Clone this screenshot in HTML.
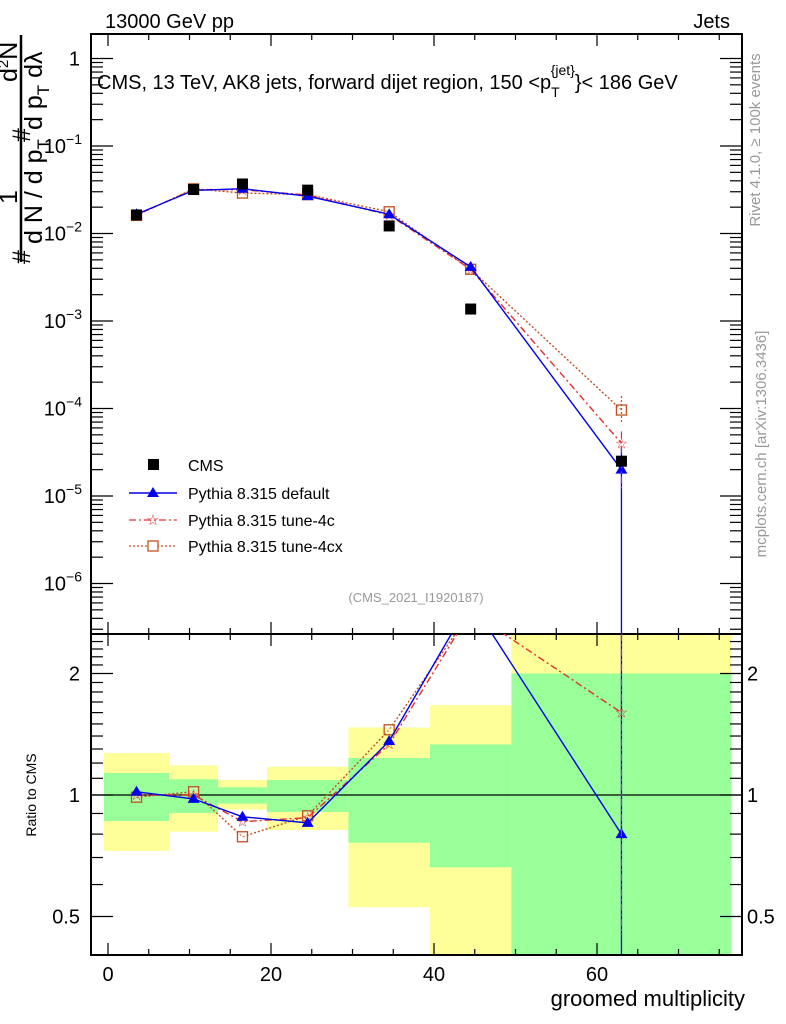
<!DOCTYPE html>
<html><head><meta charset="utf-8">
<style>
html,body{margin:0;padding:0;background:#fff;width:786px;height:1024px;overflow:hidden;}
svg{display:block;font-family:"Liberation Sans",sans-serif;}
</style></head>
<body>
<svg id="chart" width="786" height="1024" viewBox="0 0 786 1024" xmlns="http://www.w3.org/2000/svg">
<g id="bands"></g>
<g id="grid"></g>
<g id="series"></g>
<text x="105" y="28" font-size="20">13000 GeV pp</text>
<text x="730" y="28" font-size="20" text-anchor="end">Jets</text>
<text x="97" y="89" font-size="20">CMS, 13 TeV, AK8 jets, forward dijet region, 150 &lt;p<tspan dy="8" font-size="14">T</tspan><tspan dy="-22" dx="-9" font-size="14">{jet}</tspan><tspan dy="14">}&lt; 186 GeV</tspan></text>
<text x="416" y="602" font-size="13" fill="#999" text-anchor="middle">(CMS_2021_I1920187)</text>
<text transform="translate(760,140) rotate(-90)" font-size="15" fill="#999" text-anchor="middle">Rivet 4.1.0, ≥ 100k events</text>
<text transform="translate(766,444) rotate(-90)" font-size="15" fill="#999" text-anchor="middle">mcplots.cern.ch [arXiv:1306.3436]</text>
<text transform="translate(36,795) rotate(-90)" font-size="14" text-anchor="middle">Ratio to CMS</text>
<text x="745" y="1006" font-size="22" text-anchor="end">groomed multiplicity</text>
<g font-size="25">
<line x1="21" y1="35" x2="21" y2="262" stroke="#000" stroke-width="2.5"/>
<text transform="translate(17,197) rotate(-90)" text-anchor="middle">1</text>
<text transform="translate(17,82) rotate(-90)" text-anchor="start">d<tspan font-size="15" dy="-9">2</tspan><tspan dy="9">N</tspan></text>
<text transform="translate(30,257) rotate(-90)" text-anchor="middle">#</text>
<text transform="translate(30,135) rotate(-90)" text-anchor="middle">#</text>
<text transform="translate(42,244) rotate(-90)" text-anchor="start">d N / d p<tspan font-size="17" dy="7">T</tspan></text>
<text transform="translate(42,130) rotate(-90)" text-anchor="start">d p<tspan font-size="17" dy="7">T</tspan><tspan dy="-7"> dλ</tspan></text>
</g>
<g font-size="16">
<rect x="148" y="459" width="11" height="11" fill="#000"/>
<text x="188" y="471">CMS</text>
<line x1="129" y1="493" x2="177" y2="493" stroke="#0000ee" stroke-width="1.5"/>
<polygon points="153,487 159,497 147,497" fill="#0000ee"/>
<text x="188" y="499">Pythia 8.315 default</text>
<line x1="129" y1="520" x2="177" y2="520" stroke="#e03030" stroke-width="1.3" stroke-dasharray="7,3,2,3"/>
<text x="153" y="525" font-size="15" fill="#e03030" text-anchor="middle">☆</text>
<text x="188" y="526">Pythia 8.315 tune-4c</text>
<line x1="129" y1="546" x2="177" y2="546" stroke="#c05020" stroke-width="1.3" stroke-dasharray="2,2"/>
<rect x="148" y="541" width="10" height="10" fill="#fff" stroke="#c05020" stroke-width="1.3"/>
<text x="188" y="552">Pythia 8.315 tune-4cx</text>
</g>
</svg>
<script>
const xCenters=[3.5,10.5,16.5,24.5,34.5,44.5,63];
const cmsVals=[0.0163,0.0318,0.0368,0.0313,0.0122,0.00137,2.5e-5];
const defVals=[0.0166,0.0311,0.0325,0.0267,0.0166,0.00415,2.0e-5];
const t4cVals=[0.0163,0.0318,0.0316,0.0275,0.0163,0.0039,4.0e-5];
const t4cxVals=[0.0161,0.0324,0.029,0.0278,0.0177,0.0039,9.6e-5];
const binEdges=[-0.5,7.5,13.5,19.5,29.5,39.5,49.5,76.5];
const greenHi=[1.134,1.094,1.045,1.089,1.235,1.335,2.0];
const greenLo=[0.862,0.902,0.952,0.908,0.762,0.662,0.2];
const yellowHi=[1.271,1.184,1.089,1.175,1.47,1.67,4.0];
const yellowLo=[0.727,0.811,0.92,0.819,0.527,0.2,0.2];
const xTicks=[0,20,40,60];
const mainTickExp=[0,-1,-2,-3,-4,-5,-6];
const ratioTicks=[0.5,1,2];

const NS="http://www.w3.org/2000/svg";
const L=91,R=742,T=34,MB=634,RB=955;
const X=v=>108+8.15*v;
const Y=v=>58.5-87.5*Math.log10(v);
const YR=v=>795-121.5*Math.log2(v);
function mk(tag,attrs,parent){const e=document.createElementNS(NS,tag);for(const k in attrs)e.setAttribute(k,attrs[k]);parent.appendChild(e);return e;}
const bands=document.getElementById('bands'),grid=document.getElementById('grid'),ser=document.getElementById('series');

const defs=mk('defs',{},document.getElementById('chart'));
const c1=mk('clipPath',{id:'cm'},defs);mk('rect',{x:L,y:T,width:R-L,height:MB-T},c1);
const c2=mk('clipPath',{id:'cr'},defs);mk('rect',{x:L,y:MB,width:R-L,height:RB-MB},c2);
bands.setAttribute('clip-path','url(#cr)');

for(let i=0;i<greenHi.length;i++){
  const x0=X(binEdges[i]),x1=X(binEdges[i+1]);
  const y1=mk('rect',{x:x0,y:YR(yellowHi[i]),width:x1-x0,height:YR(yellowLo[i])-YR(yellowHi[i]),fill:'#ffff99'},bands);
  
  
  const g1=mk('rect',{x:x0,y:YR(greenHi[i]),width:x1-x0,height:YR(greenLo[i])-YR(greenHi[i]),fill:'#99ff99'},bands);
  
  
}
mk('rect',{x:L,y:T,width:R-L,height:MB-T,fill:'none',stroke:'#000','stroke-width':2},grid);
mk('rect',{x:L,y:MB,width:R-L,height:RB-MB,fill:'none',stroke:'#000','stroke-width':2},grid);
mk('line',{x1:L,y1:YR(1),x2:R,y2:YR(1),stroke:'#000','stroke-width':1.3},grid);
for(let v=0;v<=75;v+=5){
  const maj=v%20===0, x=X(v);
  for(const [yb,dir] of [[T,1],[MB,-1],[MB,1],[RB,-1]]){
    mk('line',{x1:x,y1:yb,x2:x,y2:yb+dir*(maj?12:6),stroke:'#000','stroke-width':1.2},grid);
  }
}
xTicks.forEach(v=>{const t=mk('text',{x:X(v),y:981,'font-size':20,'text-anchor':'middle'},grid);t.textContent=v;
 
 });
for(let e=1;e>=-7;e--){
  for(let m=1;m<10;m++){
    const y=Y(m*Math.pow(10,e-1));
    if(y<T||y>MB)continue;
    const len=m===1?22:12;
    mk('line',{x1:L,y1:y,x2:L+len,y2:y,stroke:'#000','stroke-width':1.2},grid);
    mk('line',{x1:R,y1:y,x2:R-len,y2:y,stroke:'#000','stroke-width':1.2},grid);
  }
}
mainTickExp.forEach(e=>{
  const t=mk('text',{x:e===0?80:82,y:Y(Math.pow(10,e))+7,'font-size':20,'text-anchor':'end'},grid);
  if(e===0)t.textContent='1';else{t.textContent='10';const s=mk('tspan',{dy:-9,'font-size':14},t);s.textContent='−'+(-e);}
  
  
});
for(let v=0.4;v<=2.51;v+=0.1){
  const y=YR(v);if(y<MB||y>RB)continue;
  const maj=[0.5,1,2].some(a=>Math.abs(a-v)<1e-6);
  const len=maj?22:12;
  mk('line',{x1:L,y1:y,x2:L+len,y2:y,stroke:'#000','stroke-width':1.2},grid);
  mk('line',{x1:R,y1:y,x2:R-len,y2:y,stroke:'#000','stroke-width':1.2},grid);
}
ratioTicks.forEach(v=>{
  const t=mk('text',{x:80,y:YR(v)+7,'font-size':20,'text-anchor':'end'},grid);t.textContent=v;
  
  
  const t2=mk('text',{x:747,y:YR(v)+7,'font-size':20},grid);t2.textContent=v;
  
  
});

const gm=mk('g',{'clip-path':'url(#cm)'},ser);
const gr=mk('g',{'clip-path':'url(#cr)'},ser);
function marker(g,kind,x,y,col){
  if(kind==='tri') return mk('polygon',{points:`${x},${y-6} ${x+6},${y+4} ${x-6},${y+4}`,fill:col},g);
  if(kind==='sq') return mk('rect',{x:x-5,y:y-5,width:10,height:10,fill:'#fff','fill-opacity':0.3,stroke:col,'stroke-width':1.3},g);
  if(kind==='star'){const t=mk('text',{x:x,y:y+5,'font-size':15,'text-anchor':'middle',fill:col},g);t.textContent='☆';return t;}
}
const series=[
  {vals:t4cxVals,col:'#c05020',dash:'2,2',kind:'sq',name:'tune-4cx'},
  {vals:t4cVals,col:'#e03030',dash:'7,3,2,3',kind:'star',name:'tune-4c'},
  {vals:defVals,col:'#0000ee',dash:'',kind:'tri',name:'default'}
];
series.forEach(s=>{
  const pm=xCenters.map((x,i)=>X(x)+','+Y(s.vals[i])).join(' ');
  const l=mk('polyline',{points:pm,fill:'none',stroke:s.col,'stroke-width':1.4,'stroke-dasharray':s.dash},gm);
  
  
  const pr=xCenters.map((x,i)=>X(x)+','+YR(s.vals[i]/cmsVals[i])).join(' ');
  const l2=mk('polyline',{points:pr,fill:'none',stroke:s.col,'stroke-width':1.4,'stroke-dasharray':s.dash},gr);
  
  
  xCenters.forEach((x,i)=>{
    const m=marker(gm,s.kind,X(x),Y(s.vals[i]),s.col);
    
    
    const m2=marker(gr,s.kind,X(x),YR(s.vals[i]/cmsVals[i]),s.col);
    
    
  });
});
const xl=X(xCenters[6]);
mk('line',{x1:xl,y1:Y(defVals[6])-22,x2:xl,y2:MB,stroke:'#0000ee','stroke-width':1.3},gm);
mk('line',{x1:xl,y1:MB,x2:xl,y2:RB,stroke:'#0000ee','stroke-width':1.3},gr);
mk('line',{x1:xl,y1:Y(t4cVals[6])-12,x2:xl,y2:Y(t4cVals[6])+48,stroke:'#e03030','stroke-width':1.2,'stroke-dasharray':'7,3,2,3'},gm);
mk('line',{x1:xl,y1:MB,x2:xl,y2:YR(0.45),stroke:'#e03030','stroke-width':1.2,'stroke-dasharray':'7,3,2,3'},gr);
mk('line',{x1:xl,y1:Y(t4cxVals[6])-14,x2:xl,y2:Y(t4cxVals[6])+14,stroke:'#c05020','stroke-width':1.2,'stroke-dasharray':'2,2'},gm);
xCenters.forEach((x,i)=>{
  const r=mk('rect',{x:X(x)-5.5,y:Y(cmsVals[i])-5.5,width:11,height:11,fill:'#000'},gm);
  
  
});
</script>
</body></html>
